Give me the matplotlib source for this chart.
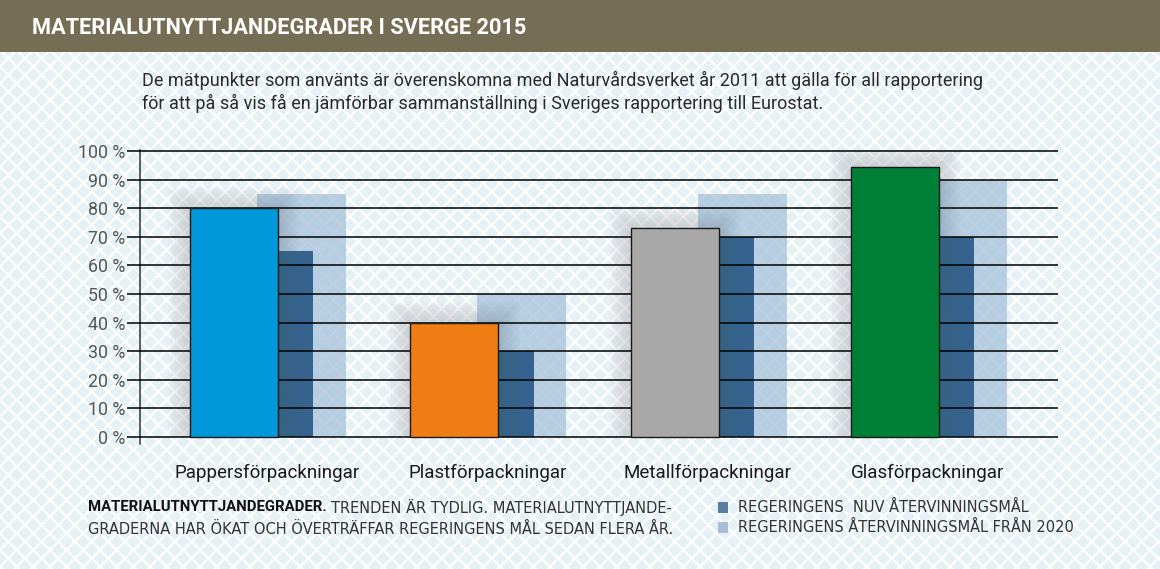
import matplotlib
matplotlib.use("Agg")
import matplotlib.pyplot as plt
from matplotlib.patches import Rectangle
import numpy as np

# data
categories = ["Pappersförpackningar", "Plastförpackningar", "Metallförpackningar", "Glasförpackningar"]
utfall_2015 = [80, 40, 73, 94.5]
mal_nu = [65, 30, 70, 70]
mal_2020 = [85, 50, 85, 90]
bar_colors = ["#0098da", "#f07d14", "#a8a8a8", "#007f36"]
yticks = list(range(0, 101, 10))
ytick_labels = [f"{v} %" for v in yticks]

title = "MATERIALUTNYTTJANDEGRADER I SVERGE 2015"
subtitle = ("De mätpunkter som använts är överenskomna med Naturvårdsverket år 2011 att gälla för all rapportering\n"
            "för att på så vis få en jämförbar sammanställning i Sveriges rapportering till Eurostat.")
legend_labels = ["REGERINGENS  NUV ÅTERVINNINGSMÅL", "REGERINGENS ÅTERVINNINGSMÅL FRÅN 2020"]

W, H = 1160, 569
fig = plt.figure(figsize=(W / 100, H / 100), dpi=100)
fig.patch.set_facecolor("#e6f1f6")

# lattice background
plt.rcParams["hatch.linewidth"] = 1.6
bg = Rectangle((0, 0), 1, 1, transform=fig.transFigure, facecolor="#e6f1f6",
               edgecolor="white", hatch="xx", linewidth=0, zorder=-10)
fig.patches.append(bg)

# title band
band = Rectangle((0, 1 - 52 / H), 1, 52 / H, transform=fig.transFigure,
                 facecolor="#766e54", edgecolor="none", zorder=-5)
fig.patches.append(band)
fig.text(32 / W, 1 - 28 / H, title, color="white", fontsize=15.7, fontweight="bold",
         family="Roboto", va="center", ha="left")

fig.text(142 / W, 1 - 92 / H, subtitle, color="#2a2a2a", fontsize=13.0,
         family="Roboto", va="center", ha="left", linespacing=1.2)

# axes
ax_left, ax_right = 140 / W, 1058 / W
ax_bottom, ax_top = (H - 444.2) / H, (H - 150.1) / H
ax = fig.add_axes([ax_left, ax_bottom, ax_right - ax_left, ax_top - ax_bottom])
ax.set_facecolor("none")

x = np.arange(len(categories))
w_main, w_dark, w_light = 0.40, 0.16, 0.404

ax.bar(x + 0.306, mal_2020, width=w_light, color="#a3bfd8", alpha=0.72, zorder=1)
ax.bar(x + 0.28, mal_nu, width=w_dark, color="#1f4f80", alpha=0.85, zorder=1.5)

# soft shadow behind the main bars
px_x, px_y = 1 / 220.3, 1 / 2.86
for i, v in enumerate(utfall_2015):
    for pad in np.linspace(1, 22, 15):
        ax.add_patch(Rectangle((i - w_main / 2 - pad * px_x, 0),
                               w_main + 2 * pad * px_x, v + pad * px_y,
                               facecolor="#666666", edgecolor="none", alpha=0.016, zorder=2.5))

ax.bar(x, utfall_2015, width=w_main, color=bar_colors, edgecolor="#1a1a1a",
       linewidth=1, zorder=3)

ax.set_ylim(-2.5, 100.3)
ax.set_xlim(-0.4267, 3.740)
ax.set_yticks(yticks)
ax.set_yticklabels(ytick_labels, family="Roboto", fontsize=12.8, color="#555555")
ax.yaxis.grid(True, color="black", linewidth=1.1, zorder=2)
ax.set_axisbelow(False)
ax.tick_params(axis="y", length=9.4, width=1.1, color="black", pad=1)
ax.set_xticks(x + 0.15)
ax.set_xticklabels(categories, family="Roboto", fontsize=13.5, color="#1a1a1a")
ax.tick_params(axis="x", length=0, pad=14)
for s in ["top", "right", "bottom"]:
    ax.spines[s].set_visible(False)
ax.spines["left"].set_color("#333333")
ax.spines["left"].set_linewidth(1.1)
for ln in ax.get_ygridlines():
    ln.set_zorder(2)

# footer
foot_font = ["Liberation Sans Narrow", "DejaVu Sans"]
t1 = fig.text(88 / W, 1 - 507 / H, "MATERIALUTNYTTJANDEGRADER.", fontsize=10.7,
              fontweight="bold", family="Roboto", color="#111111", va="center")
fig.canvas.draw()
bb = t1.get_window_extent()
fig.text((bb.x1 + 4) / W, 1 - 507 / H, "TRENDEN ÄR TYDLIG. MATERIALUTNYTTJANDE-",
         fontsize=10.5, family=foot_font, color="#333333", va="center")
fig.text(88 / W, 1 - 529 / H, "GRADERNA HAR ÖKAT OCH ÖVERTRÄFFAR REGERINGENS MÅL SEDAN FLERA ÅR.",
         fontsize=10.5, family=foot_font, color="#333333", va="center")

legend_colors = ["#5a7ea3", "#a9bdd6"]
for k, (lab, c) in enumerate(zip(legend_labels, legend_colors)):
    yc = 507 + 20 * k
    fig.patches.append(Rectangle((718 / W, 1 - (yc + 5.5) / H), 10 / W, 11 / H,
                                 transform=fig.transFigure, facecolor=c, edgecolor="none"))
    fig.text(738 / W, 1 - yc / H, lab, fontsize=10.5, family=foot_font,
             color="#333333", va="center")

fig.savefig("out.png", dpi=100, facecolor=fig.get_facecolor())
